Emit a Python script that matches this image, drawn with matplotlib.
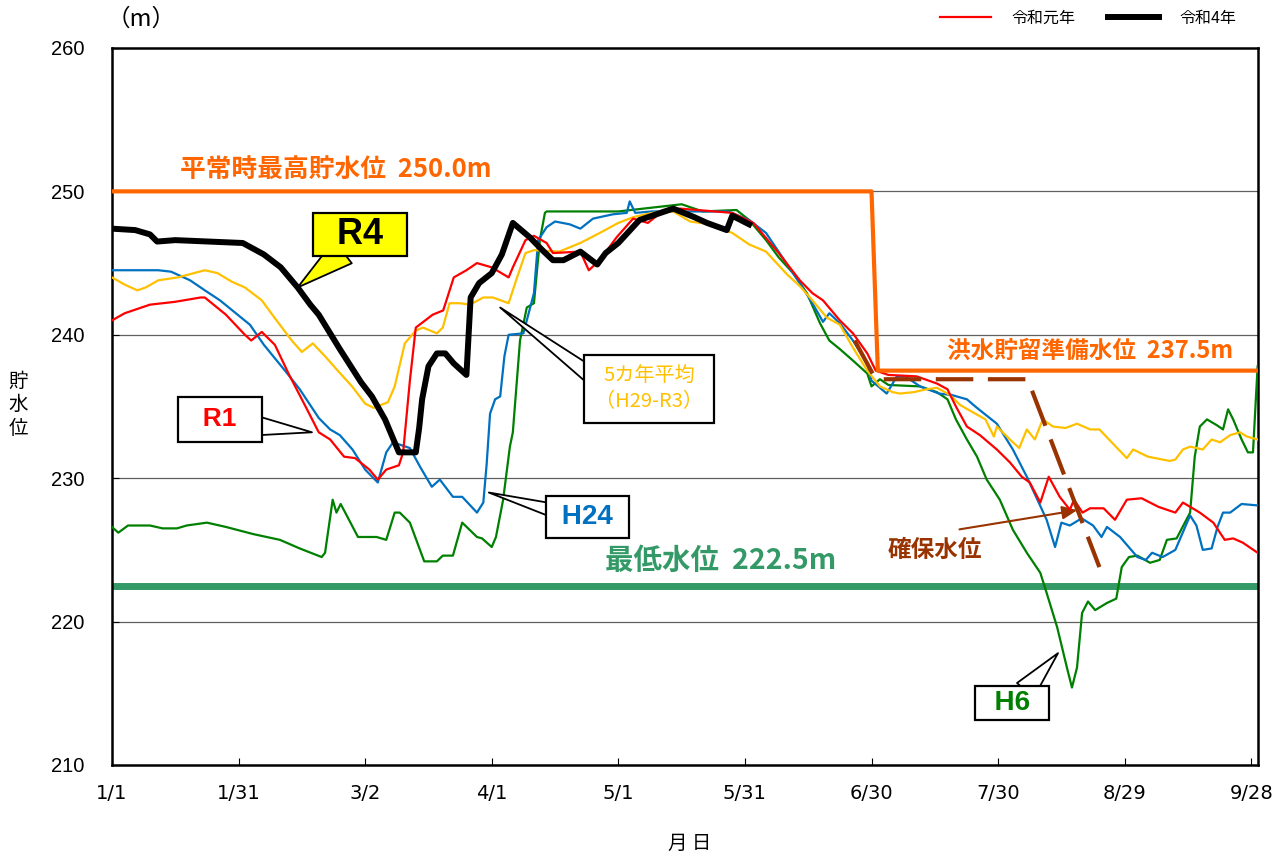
import matplotlib
matplotlib.use('Agg')
import matplotlib.pyplot as plt

plt.rcParams['font.family'] = ['Noto Sans CJK JP', 'DejaVu Sans']

# 日付(1/1からの日数)と貯水位(m)
r4_day = [0, 5.5, 9, 10.7, 15, 31, 36, 40, 44, 47, 49, 54, 59, 61.6, 64.7, 68, 72, 72.8,
          73.5, 75, 77, 79, 81, 84, 85, 87, 90, 92.4, 95, 99, 102, 104.5, 107, 111, 115, 117,
          120, 125, 130, 133, 138, 141, 145.7, 147, 151]
r4_lv = [247.4, 247.3, 247.0, 246.5, 246.6, 246.4, 245.6, 244.7, 243.3, 242.1, 241.4, 239.0,
         236.7, 235.7, 234.1, 231.8, 231.8, 233.5, 235.5, 237.8, 238.7, 238.7, 238.0, 237.2,
         242.6, 243.6, 244.3, 245.6, 247.8, 246.8, 245.9, 245.2, 245.2, 245.8, 244.9, 245.7,
         246.4, 248.0, 248.5, 248.8, 248.2, 247.8, 247.3, 248.3, 247.7]

r1_day = [0, 3, 9, 15, 21, 22, 27, 31.5, 33, 35.5, 38.6, 42, 45.7, 49, 51.7, 55, 57.6, 61, 63,
          65, 68, 69, 70.6, 72, 76, 78.5, 81, 84, 86.5, 90, 94, 95, 98, 100, 103, 104.5, 111,
          113, 115.6, 119.6, 123.5, 127, 130, 134.6, 147, 152, 158, 163, 166, 168.5, 172.5,
          175.6, 179, 181, 184, 190.7, 195.5, 198, 200, 202.6, 205.7, 209.7, 212.8, 215.6,
          217.5, 220, 222, 224.6, 227, 228, 230, 231.8, 235, 237.7, 240.5, 244, 248, 252,
          253.8, 257.8, 261, 263.7, 265.7, 268, 271.5]
r1_lv = [241.0, 241.5, 242.1, 242.3, 242.6, 242.6, 241.4, 240.0, 239.6, 240.2, 239.3, 237.2,
         235.1, 233.2, 232.7, 231.5, 231.4, 230.6, 229.9, 230.6, 230.9, 231.8, 236.8, 240.5,
         241.4, 241.7, 244.0, 244.5, 245.0, 244.7, 244.0, 244.7, 246.6, 246.9, 246.4, 245.7,
         245.8, 244.5, 245.2, 246.8, 248.1, 247.8, 248.5, 248.8, 248.5, 247.8, 245.7, 243.8,
         242.9, 242.4, 241.0, 240.1, 238.7, 237.5, 237.2, 237.1, 236.6, 236.2, 235.0, 233.6,
         233.0, 232.0, 231.1, 230.1, 229.7, 228.3, 230.1, 228.7, 227.8, 228.5, 227.6, 227.9,
         227.9, 227.1, 228.5, 228.6, 228.0, 227.6, 228.3, 227.6, 226.9, 225.7, 225.8, 225.5,
         224.8]

avg_day = [0, 3, 6, 8, 11, 15.6, 22, 25, 28.4, 31.5, 35.5, 39, 42.6, 45, 47.6, 50.5, 53.5,
           56.9, 60, 62, 65.4, 67, 69.4, 72, 73.7, 77, 78.4, 80, 82.5, 84.8, 88, 90.3, 94, 96,
           98, 100, 106, 111, 115.6, 120, 123.5, 128, 133, 137, 141.7, 147, 151, 155, 160, 163,
           166, 169.4, 172.5, 175.6, 179, 182, 185, 186.7, 190, 193, 195.5, 198.6, 201, 204,
           207, 209, 209.7, 212.8, 215, 216.8, 218.7, 220.6, 223, 226, 228.7, 231.8, 234,
           240.5, 242, 245.5, 250.7, 252, 253.8, 255.5, 258.5, 260.6, 262.6, 265, 267.3, 269,
           271.5]
avg_lv = [244.0, 243.5, 243.1, 243.3, 243.8, 244.0, 244.5, 244.3, 243.7, 243.3, 242.4, 241.0,
          239.6, 238.8, 239.4, 238.5, 237.5, 236.4, 235.2, 234.9, 235.3, 236.4, 239.4, 240.3,
          240.5, 240.1, 240.5, 242.2, 242.2, 242.1, 242.6, 242.6, 242.2, 244.0, 245.7, 245.9,
          245.8, 246.4, 247.1, 247.8, 248.2, 248.5, 248.6, 247.9, 247.7, 247.1, 246.3, 245.8,
          244.2, 243.4, 242.4, 241.2, 240.7, 239.1, 237.5, 236.4, 236.0, 235.9, 236.0, 236.2,
          236.3, 235.8, 235.1, 234.6, 234.1, 232.9, 233.6, 232.7, 232.1, 233.4, 232.7, 234.1,
          233.6, 233.5, 233.8, 233.4, 233.4, 231.4, 232.0, 231.5, 231.2, 231.3, 232.0, 232.2,
          232.0, 232.7, 232.5, 233.0, 233.2, 232.9, 232.7]

h24_day = [0, 11, 14, 18.5, 22, 25.6, 32.7, 36, 41, 44.5, 49, 51.7, 54, 57, 60, 63, 65, 66.6,
           70.6, 73, 75.8, 77.7, 80.8, 83, 86.5, 88, 88.8, 89.6, 90.8, 92, 93, 94, 97.5, 100,
           101, 103, 105, 108.5, 111, 114, 118.7, 122, 122.7, 124, 128, 146, 151, 155, 163,
           166, 168.5, 170, 172.5, 175.6, 179, 180, 183.6, 186, 188, 191.5, 196, 199, 202.6,
           205, 209.7, 213.5, 216.8, 219, 221.5, 223.5, 225, 227, 229.8, 232.5, 234.5, 235.8,
           238.9, 243, 245, 246.5, 249, 252, 255.5, 257, 258.5, 260.6, 262, 263.3, 265, 267.7,
           271.5]
h24_lv = [244.5, 244.5, 244.4, 243.8, 243.1, 242.4, 240.7, 239.3, 237.5, 236.2, 234.2, 233.4,
          233.0, 232.0, 230.6, 229.7, 231.8, 232.5, 232.1, 230.8, 229.4, 229.9, 228.7, 228.7,
          227.6, 228.3, 231.0, 234.5, 235.5, 235.7, 238.5, 240.0, 240.1, 242.9, 246.6, 247.5,
          247.9, 247.7, 247.4, 248.1, 248.4, 248.5, 249.3, 248.5, 248.6, 248.6, 248.0, 247.1,
          243.6, 242.2, 240.9, 241.5, 240.8, 239.6, 238.0, 236.8, 235.9, 237.1, 237.1, 236.4,
          235.9, 235.8, 235.5, 234.9, 233.8, 232.0, 230.1, 228.7, 227.1, 225.2, 226.9, 226.7,
          227.2, 226.7, 225.9, 226.6, 225.9, 224.5, 224.3, 224.8, 224.5, 225.0, 227.4, 226.7,
          225.0, 225.1, 226.6, 227.6, 227.6, 228.2, 228.1]

h6_day = [0, 1.5, 3.8, 9, 12, 15.4, 17.7, 22.5, 27, 33.5, 39.8, 44.5, 49.7, 50.5, 52.3, 53.2,
          54.2, 58.3, 62.7, 65, 67, 68.2, 70.6, 74, 77, 78.4, 80.8, 83, 86.5, 87.7, 90, 91,
          92.7, 94.3, 95, 96.7, 98.3, 100, 101.4, 102.6, 103, 120, 135, 140, 148, 151, 155,
          158, 161.4, 164.7, 167.8, 170, 172.5, 175.6, 179, 180, 182, 184, 191.5, 195.5, 198,
          200, 202.6, 205, 207.3, 210.4, 213.5, 216.8, 220, 221.5, 224, 226.3, 227.5, 228.7,
          229.9, 231.3, 233, 235.8, 238, 239.3, 241, 243, 246, 248.3, 250, 252.3, 255.5, 256.6,
          257.8, 259.5, 261.8, 263.3, 264.5, 265.7, 267.7, 269.2, 270.4, 271.5]
h6_lv = [226.6, 226.2, 226.7, 226.7, 226.5, 226.5, 226.7, 226.9, 226.6, 226.1, 225.7, 225.1,
         224.5, 224.8, 228.5, 227.6, 228.2, 225.9, 225.9, 225.7, 227.6, 227.6, 226.9, 224.2,
         224.2, 224.6, 224.6, 226.9, 225.9, 225.8, 225.2, 225.9, 228.5, 232.2, 233.2, 239.6,
         241.9, 242.2, 246.6, 248.5, 248.6, 248.6, 249.1, 248.6, 248.7, 248.0, 246.6, 245.4,
         244.3, 242.9, 240.8, 239.6, 239.0, 238.2, 237.3, 236.4, 236.9, 236.5, 236.4, 236.0,
         235.5, 234.1, 232.7, 231.5, 229.9, 228.5, 226.4, 224.8, 223.4, 222.0, 219.6, 216.8,
         215.4, 216.8, 220.6, 221.4, 220.8, 221.3, 221.6, 223.8, 224.5, 224.6, 224.1, 224.3,
         225.7, 225.8, 227.6, 231.5, 233.6, 234.1, 233.7, 233.4, 234.8, 234.1, 232.7, 231.8,
         231.8, 237.8]

# 基準水位
max_day = [0, 180, 181.5, 272]
max_lv = [250.0, 250.0, 237.5, 237.5]
min_day = [0, 272]
min_lv = [222.5, 222.5]
keep_day = [176, 181, 217, 234]
keep_lv = [239.6, 236.9, 236.9, 223.8]

tick_days = [0, 30, 60, 90, 120, 150, 180, 210, 240, 270]
tick_labels = ['1/1', '1/31', '3/2', '4/1', '5/1', '5/31', '6/30', '7/30', '8/29', '9/28']

fig = plt.figure(figsize=(12.87, 8.58), dpi=100)
ax = fig.add_axes([0.087, 0.1084, 0.8905, 0.8357])

for yv in [220, 230, 240, 250]:
    ax.axhline(yv, color='#606060', lw=0.9, zorder=1)

ax.plot(min_day, min_lv, color='#339966', lw=5, zorder=2, solid_capstyle='butt')
ax.plot(h6_day, h6_lv, color='#008000', lw=1.6, zorder=3)
ax.plot(h24_day, h24_lv, color='#0070C0', lw=1.6, zorder=3)
ax.plot(avg_day, avg_lv, color='#FFC000', lw=1.6, zorder=3)
ln_r1, = ax.plot(r1_day, r1_lv, color='#FF0000', lw=1.6, zorder=4, label='令和元年')
ax.plot(keep_day, keep_lv, color='#993300', lw=3, dashes=(9, 3.5), zorder=5)
ax.plot(max_day, max_lv, color='#FF6600', lw=3, zorder=5)
ln_r4, = ax.plot(r4_day, r4_lv, color='black', lw=4.3, zorder=6, label='令和4年',
                 solid_joinstyle='round')

ax.set_xlim(0, 271.6)
ax.set_ylim(210, 260)
ax.set_xticks(tick_days)
ax.set_xticklabels(tick_labels, family=['Liberation Sans Narrow', 'DejaVu Sans'], fontsize=14)
ax.set_yticks(range(210, 261, 10))
ax.set_yticklabels([str(v) for v in range(210, 261, 10)],
                   family=['Liberation Sans', 'DejaVu Sans'], fontsize=14.5)
ax.tick_params(axis='both', direction='in', length=5, width=0.8)
ax.tick_params(axis='x', pad=14)
ax.tick_params(axis='y', pad=20)
for s in ax.spines.values():
    s.set_linewidth(1.8)
    s.set_color('black')

# 文字
ax.text(16.1, 251.5, '平常時最高貯水位  250.0m', color='#FF6600', fontsize=18.5,
        fontweight='bold', va='center', ha='left')
ax.text(197.9, 238.9, '洪水貯留準備水位  237.5m', color='#FF6600', fontsize=17,
        fontweight='bold', va='center', ha='left')
ax.text(116.8, 224.2, '最低水位  222.5m', color='#339966', fontsize=20.5,
        fontweight='bold', va='center', ha='left')
ax.text(183.9, 225.0, '確保水位', color='#993300', fontsize=17,
        fontweight='bold', va='center', ha='left')
ax.annotate('', xy=(229.4, 227.8), xytext=(200.2, 226.4),
            arrowprops=dict(arrowstyle='-|>,head_length=0.9,head_width=0.4',
                            color='#993300', lw=1.5))


def callout(label, tip, center, rel, tw, color, size, pad, fc='white', weight='bold',
            family=('Liberation Sans', 'DejaVu Sans')):
    ax.annotate(label, xy=tip, xytext=center, color=color, fontsize=size,
                fontweight=weight, ha='center', va='center', family=list(family),
                linespacing=1.25,
                bbox=dict(boxstyle='square,pad=%s' % pad, fc=fc, ec='black', lw=1.6),
                arrowprops=dict(arrowstyle='wedge,tail_width=%s,shrink_factor=0.5' % tw,
                                fc=fc, ec='black', lw=1.3, relpos=rel, patchA=None,
                                shrinkA=0, shrinkB=0),
                zorder=8)


callout('  R4  ', (44, 243.3), (58.8, 247.0), (0.3, 0.0), 0.8, 'black', 26, 0.1, fc='#FFFF00')
callout('  R1  ', (47.4, 233.2), (25.6, 234.1), (1.0, 0.26), 0.8, '#FF0000', 19, 0.39)
callout(' H24 ', (89.3, 229.0), (112.6, 227.3), (0.0, 0.74), 0.5, '#0070C0', 20, 0.3)
callout('  H6  ', (224.2, 217.8), (213.3, 214.3), (0.7, 1.0), 0.8, '#008000', 20, 0.14)
callout('5カ年平均\n（H29-R3）', (92, 241.9), (127.3, 236.2), (0.0, 0.73), 0.85, '#FFC000',
        14.5, 0.55, weight='normal', family=('Noto Sans CJK JP', 'DejaVu Sans'))

fig.text(0.110, 0.978, '（m）', fontsize=17, ha='center', va='center')
fig.text(0.536, 0.0175, '月 日', fontsize=14, ha='center', va='center')
fig.text(0.014, 0.528, '貯\n水\n位', fontsize=14, ha='center', va='center', linespacing=1.15)

fig.legend(handles=[ln_r1, ln_r4], loc='upper right', bbox_to_anchor=(0.972, 1.005), ncol=2,
           frameon=False, fontsize=11.5, handlelength=3.2, handletextpad=1.3, columnspacing=2.0)

fig.savefig('out.png', dpi=100)
